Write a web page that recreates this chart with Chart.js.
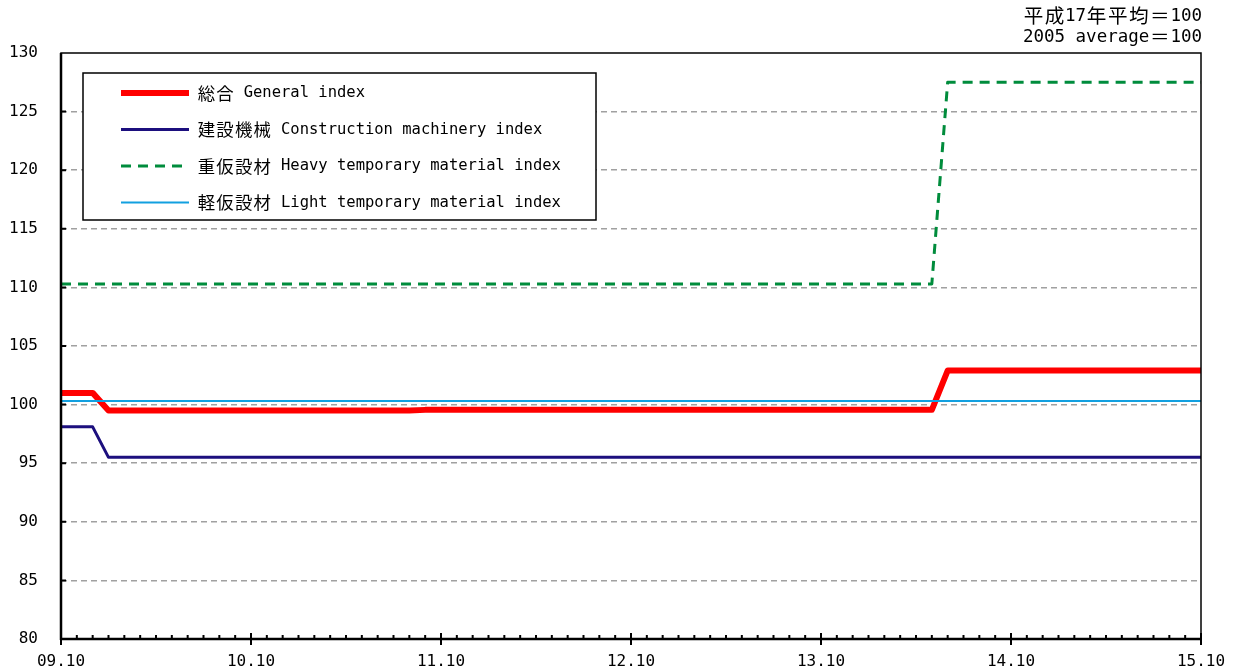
<!DOCTYPE html>
<html>
<head>
<meta charset="utf-8">
<script src="https://cdn.jsdelivr.net/npm/chart.js@4.4.1/dist/chart.umd.min.js"></script>
<style>
  html, body { margin: 0; padding: 0; background: #fff; }
  canvas { display: block; }
</style>
</head>
<body>
<canvas id="grafica" width="1236" height="671"></canvas>
<script>
// Etiquetas de meses (09.10 ... 15.10)
const meses = []
for (let i = 0; i <= 72; i++) {
    const y = 9 + Math.floor((9 + i) / 12)
    const m = ((9 + i) % 12) + 1
    meses.push(String(y).padStart(2, '0') + '.' + String(m).padStart(2, '0'))
}

// Valores
const general = [
    101.0, 101.0, 101.0, 99.5, 99.5, 99.5, 99.5, 99.5, 99.5, 99.5, 99.5, 99.5,
    99.5, 99.5, 99.5, 99.5, 99.5, 99.5, 99.5, 99.5, 99.5, 99.5, 99.5, 99.55,
    99.55, 99.55, 99.55, 99.55, 99.55, 99.55, 99.55, 99.55, 99.55, 99.55, 99.55, 99.55,
    99.55, 99.55, 99.55, 99.55, 99.55, 99.55, 99.55, 99.55, 99.55, 99.55, 99.55, 99.55,
    99.55, 99.55, 99.55, 99.55, 99.55, 99.55, 99.55, 99.55, 102.9, 102.9, 102.9, 102.9,
    102.9, 102.9, 102.9, 102.9, 102.9, 102.9, 102.9, 102.9, 102.9, 102.9, 102.9, 102.9,
    102.9
]
const maquinaria = [
    98.1, 98.1, 98.1, 95.5, 95.5, 95.5, 95.5, 95.5, 95.5, 95.5, 95.5, 95.5,
    95.5, 95.5, 95.5, 95.5, 95.5, 95.5, 95.5, 95.5, 95.5, 95.5, 95.5, 95.5,
    95.5, 95.5, 95.5, 95.5, 95.5, 95.5, 95.5, 95.5, 95.5, 95.5, 95.5, 95.5,
    95.5, 95.5, 95.5, 95.5, 95.5, 95.5, 95.5, 95.5, 95.5, 95.5, 95.5, 95.5,
    95.5, 95.5, 95.5, 95.5, 95.5, 95.5, 95.5, 95.5, 95.5, 95.5, 95.5, 95.5,
    95.5, 95.5, 95.5, 95.5, 95.5, 95.5, 95.5, 95.5, 95.5, 95.5, 95.5, 95.5,
    95.5
]
const pesado = [
    110.3, 110.3, 110.3, 110.3, 110.3, 110.3, 110.3, 110.3, 110.3, 110.3, 110.3, 110.3,
    110.3, 110.3, 110.3, 110.3, 110.3, 110.3, 110.3, 110.3, 110.3, 110.3, 110.3, 110.3,
    110.3, 110.3, 110.3, 110.3, 110.3, 110.3, 110.3, 110.3, 110.3, 110.3, 110.3, 110.3,
    110.3, 110.3, 110.3, 110.3, 110.3, 110.3, 110.3, 110.3, 110.3, 110.3, 110.3, 110.3,
    110.3, 110.3, 110.3, 110.3, 110.3, 110.3, 110.3, 110.3, 127.5, 127.5, 127.5, 127.5,
    127.5, 127.5, 127.5, 127.5, 127.5, 127.5, 127.5, 127.5, 127.5, 127.5, 127.5, 127.5,
    127.5
]
const ligero = [
    100.3, 100.3, 100.3, 100.3, 100.3, 100.3, 100.3, 100.3, 100.3, 100.3, 100.3, 100.3,
    100.3, 100.3, 100.3, 100.3, 100.3, 100.3, 100.3, 100.3, 100.3, 100.3, 100.3, 100.3,
    100.3, 100.3, 100.3, 100.3, 100.3, 100.3, 100.3, 100.3, 100.3, 100.3, 100.3, 100.3,
    100.3, 100.3, 100.3, 100.3, 100.3, 100.3, 100.3, 100.3, 100.3, 100.3, 100.3, 100.3,
    100.3, 100.3, 100.3, 100.3, 100.3, 100.3, 100.3, 100.3, 100.3, 100.3, 100.3, 100.3,
    100.3, 100.3, 100.3, 100.3, 100.3, 100.3, 100.3, 100.3, 100.3, 100.3, 100.3, 100.3,
    100.3
]

const nombres = [
    '総合 General index',
    '建設機械 Construction machinery index',
    '重仮設材 Heavy temporary material index',
    '軽仮設材 Light temporary material index'
]
const nota = ['平成17年平均＝100', '2005 average＝100']

const fuente = "'DejaVu Sans Mono', monospace"
const fuenteCJK = "'Noto Sans CJK JP', sans-serif"

// Texto mixto: ancho fijo, los caracteres japoneses ocupan dos celdas
function textoMixto(c, txt, x, y, size, align) {
    const unit = size * 0.602
    let total = 0
    for (const ch of txt) total += ch.charCodeAt(0) > 0x2000 ? 2 * unit : unit
    let px = align === 'right' ? x - total : x
    c.textAlign = 'center'
    c.textBaseline = 'middle'
    for (const ch of txt) {
        const ancho = ch.charCodeAt(0) > 0x2000 ? 2 * unit : unit
        if (ancho > unit) c.font = (size * 1.12).toFixed(1) + 'px ' + fuenteCJK
        else c.font = size + 'px ' + fuente
        c.fillText(ch, px + ancho / 2, y)
        px += ancho
    }
}

// Plugin: marco, marcas de ejes, leyenda y nota
const extras = {
    id: 'extras',
    afterDraw(chart) {
        const c = chart.ctx
        const a = chart.chartArea
        const x = chart.scales.x
        const y = chart.scales.y
        c.save()
        c.strokeStyle = '#000'
        c.setLineDash([])
        // marco
        c.lineWidth = 1.5
        c.strokeRect(a.left, a.top, a.right - a.left, a.bottom - a.top)
        c.lineWidth = 2.5
        c.beginPath()
        c.moveTo(a.left, a.top); c.lineTo(a.left, a.bottom + 1)
        c.moveTo(a.left - 1, a.bottom); c.lineTo(a.right, a.bottom)
        c.stroke()
        // marcas del eje x
        c.lineWidth = 2
        c.beginPath()
        for (let i = 0; i < meses.length; i++) {
            const px = x.getPixelForValue(i)
            if (i % 12 === 0) {
                c.moveTo(px, a.bottom - 6); c.lineTo(px, a.bottom + 6)
            } else {
                c.moveTo(px, a.bottom - 4); c.lineTo(px, a.bottom)
            }
        }
        // marcas del eje y
        for (let v = 85; v < 130; v += 5) {
            const py = y.getPixelForValue(v)
            c.moveTo(a.left, py); c.lineTo(a.left + 5, py)
        }
        c.stroke()

        // leyenda
        const lx = 83, ly = 73, lw = 513, lh = 147
        c.fillStyle = '#fff'
        c.fillRect(lx, ly, lw, lh)
        c.lineWidth = 1.5
        c.strokeRect(lx, ly, lw, lh)
        chart.data.datasets.forEach((ds, i) => {
            const ry = ly + 20 + i * 36.5
            c.strokeStyle = ds.borderColor
            c.lineWidth = ds.borderWidth
            c.setLineDash(ds.borderDash || [])
            c.beginPath()
            c.moveTo(121, ry); c.lineTo(189, ry)
            c.stroke()
            c.setLineDash([])
            c.fillStyle = '#000'
            textoMixto(c, ds.label, 197, ry, 15.5, 'left')
        })

        // nota arriba a la derecha
        c.fillStyle = '#000'
        textoMixto(c, nota[0], 1202, 16, 17.5, 'right')
        textoMixto(c, nota[1], 1202, 37, 17.5, 'right')
        c.restore()
    }
}

let ctx = document.getElementById('grafica')
const config = {
    type: 'line',
    data: {
        labels: meses,
        datasets: [{
            label: nombres[0],
            data: general,
            borderColor: '#ff0000',
            borderWidth: 6,
            order: 3
        },
        {
            label: nombres[1],
            data: maquinaria,
            borderColor: '#1c0f7e',
            borderWidth: 3,
            order: 2
        },
        {
            label: nombres[2],
            data: pesado,
            borderColor: '#008c3c',
            borderWidth: 3,
            borderDash: [10, 7],
            order: 1
        },
        {
            label: nombres[3],
            data: ligero,
            borderColor: '#12a0e0',
            borderWidth: 2,
            order: 0
        }]
    },
    options: {
        responsive: false,
        animation: false,
        devicePixelRatio: 1,
        layout: { padding: { top: 53, right: 35, left: 0, bottom: 0 } },
        elements: { point: { radius: 0 }, line: { tension: 0, borderJoinStyle: 'round' } },
        plugins: { legend: { display: false }, tooltip: { enabled: false } },
        scales: {
            x: {
                type: 'category',
                offset: false,
                grid: { display: false, drawTicks: false },
                border: { display: false },
                ticks: {
                    autoSkip: false,
                    maxRotation: 0,
                    padding: 13,
                    color: '#000',
                    font: { family: fuente, size: 16 },
                    callback: (v, i) => (i % 12 === 0 ? meses[i] : '')
                },
                afterFit: s => { s.height = 32; s.paddingLeft = 0; s.paddingRight = 0 }
            },
            y: {
                min: 80,
                max: 130,
                ticks: {
                    stepSize: 5,
                    padding: 23,
                    color: '#000',
                    font: { family: fuente, size: 16 }
                },
                grid: {
                    drawTicks: false,
                    lineWidth: 1.5,
                    color: c => (c.tick.value === 80 || c.tick.value === 130 ? 'rgba(0,0,0,0)' : '#a0a0a0')
                },
                border: { display: false, dash: [6, 4] },
                afterFit: s => { s.width = 61; s.paddingTop = 0; s.paddingBottom = 0 }
            }
        }
    },
    plugins: [extras]
}

let myChart = new Chart(ctx, config)
</script>
</body>
</html>
